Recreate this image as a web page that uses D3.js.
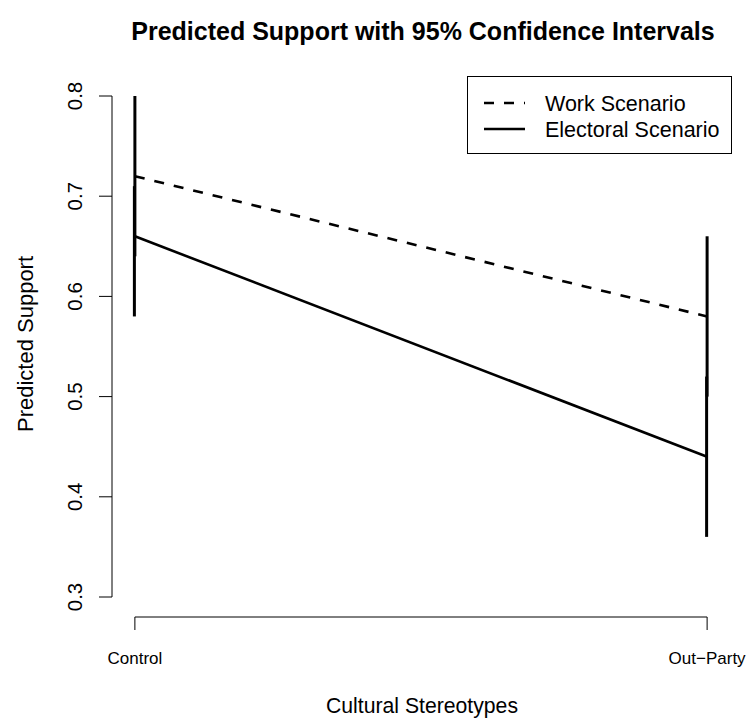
<!DOCTYPE html>
<html>
<head>
<meta charset="utf-8">
<script src="https://cdn.jsdelivr.net/npm/d3@7"></script>
<style>
  body { margin: 0; background: #fff; }
  text { font-family: "Liberation Sans", Arial, Helvetica, sans-serif; fill: #000; }
</style>
</head>
<body>
<script>
var width = 747, height = 719;

// data
var categories = ["Control", "Out\u2212Party"];
var workMean = [0.72, 0.58];
var workLower = [0.64, 0.50];
var workUpper = [0.80, 0.66];
var electMean = [0.66, 0.44];
var electLower = [0.58, 0.36];
var electUpper = [0.71, 0.52];
var yTicks = [0.3, 0.4, 0.5, 0.6, 0.7, 0.8];

var svg = d3.select("body").append("svg")
    .attr("width", width)
    .attr("height", height);

// plot region like R: x 1..2 with 4% padding, axes at region edges
var x = d3.scaleLinear().domain([0.96, 2.04]).range([112, 730]);
var y = d3.scaleLinear().domain([0.3, 0.8]).range([597, 96]);

// title
svg.append("text")
    .attr("x", 423).attr("y", 40)
    .attr("text-anchor", "middle")
    .style("font-weight", "bold")
    .style("font-size", "25px")
    .text("Predicted Support with 95% Confidence Intervals");

// y axis
var yAxis = svg.append("g").attr("transform", "translate(112,0)");
yAxis.append("line")
    .attr("x1", 0).attr("x2", 0)
    .attr("y1", y(0.3)).attr("y2", y(0.8))
    .attr("stroke", "#000");
yAxis.selectAll(".tick").data(yTicks).enter().append("line")
    .attr("x1", -13).attr("x2", 0)
    .attr("y1", function(d) { return y(d); })
    .attr("y2", function(d) { return y(d); })
    .attr("stroke", "#000");
yAxis.selectAll(".lab").data(yTicks).enter().append("text")
    .attr("transform", function(d) { return "translate(-30," + y(d) + ") rotate(-90)"; })
    .attr("text-anchor", "middle")
    .style("font-size", "20.5px")
    .text(function(d) { return d3.format(".1f")(d); });

// x axis
var xAxis = svg.append("g").attr("transform", "translate(0,617)");
xAxis.append("line")
    .attr("x1", x(1)).attr("x2", x(2))
    .attr("stroke", "#000");
xAxis.selectAll(".tick").data(categories).enter().append("line")
    .attr("x1", function(d, i) { return x(i + 1); })
    .attr("x2", function(d, i) { return x(i + 1); })
    .attr("y1", 0).attr("y2", 13)
    .attr("stroke", "#000");
xAxis.selectAll(".lab").data(categories).enter().append("text")
    .attr("x", function(d, i) { return x(i + 1); })
    .attr("y", 47)
    .attr("text-anchor", "middle")
    .style("font-size", "17px")
    .text(function(d) { return d; });

// axis titles
svg.append("text")
    .attr("x", 422).attr("y", 713)
    .attr("text-anchor", "middle")
    .style("font-size", "21.2px")
    .text("Cultural Stereotypes");
svg.append("text")
    .attr("transform", "translate(33,344) rotate(-90)")
    .attr("text-anchor", "middle")
    .style("font-size", "22px")
    .text("Predicted Support");

// mean lines
var line = d3.line()
    .x(function(d, i) { return x(i + 1); })
    .y(function(d) { return y(d); });

svg.append("path")
    .attr("d", line(workMean))
    .attr("fill", "none")
    .attr("stroke", "#000")
    .attr("stroke-width", 2.6)
    .attr("stroke-dasharray", "10,10");
svg.append("path")
    .attr("d", line(electMean))
    .attr("fill", "none")
    .attr("stroke", "#000")
    .attr("stroke-width", 2.6);

// confidence intervals
function drawCI(lower, upper, dx) {
    svg.append("g").selectAll("line").data(lower).enter().append("line")
        .attr("x1", function(d, i) { return x(i + 1) + dx; })
        .attr("x2", function(d, i) { return x(i + 1) + dx; })
        .attr("y1", function(d) { return y(d); })
        .attr("y2", function(d, i) { return y(upper[i]); })
        .attr("stroke", "#000")
        .attr("stroke-width", 3);
}
drawCI(workLower, workUpper, 0);
drawCI(electLower, electUpper, -0.5);

// legend
var legend = svg.append("g");
legend.append("rect")
    .attr("x", 467.5).attr("y", 76.5)
    .attr("width", 264).attr("height", 77)
    .attr("fill", "#fff")
    .attr("stroke", "#000");
var legendItems = [
    {label: "Work Scenario", dash: "10,10"},
    {label: "Electoral Scenario", dash: null}
];
legendItems.forEach(function(item, i) {
    var cy = 103 + i * 26;
    legend.append("line")
        .attr("x1", 484).attr("x2", 525)
        .attr("y1", cy).attr("y2", cy)
        .attr("stroke", "#000")
        .attr("stroke-width", 2.6)
        .attr("stroke-dasharray", item.dash);
    legend.append("text")
        .attr("x", 545).attr("y", cy + 7.5)
        .style("font-size", "21.5px")
        .text(item.label);
});
</script>
</body>
</html>
